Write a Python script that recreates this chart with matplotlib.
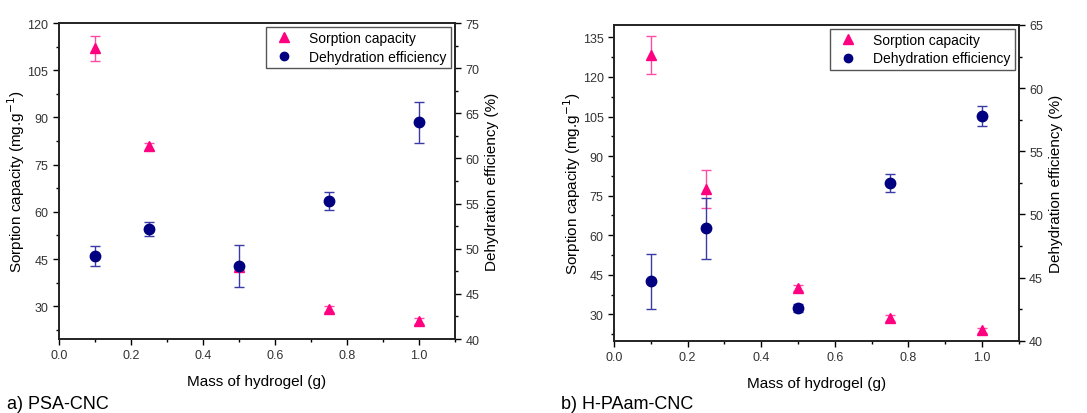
import matplotlib.pyplot as plt
from matplotlib.ticker import MultipleLocator
from matplotlib.lines import Line2D

plt.rcParams['font.family'] = ['Liberation Sans', 'DejaVu Sans']
plt.rcParams['font.size'] = 10

# Data
mass = [0.1, 0.25, 0.5, 0.75, 1.0]

# a) PSA-CNC
sorp_a = [112.0, 80.8, 42.4, 29.1, 25.4]
sorp_a_err = [4.0, 1.0, 1.0, 1.0, 1.0]
dehyd_a = [49.2, 52.2, 48.1, 55.25, 64.0]
dehyd_a_err = [1.1, 0.8, 2.3, 1.0, 2.3]

# b) H-PAam-CNC
sorp_b = [128.2, 77.6, 40.0, 28.6, 24.0]
sorp_b_err = [7.2, 7.3, 1.0, 1.0, 1.0]
dehyd_b = [44.7, 48.9, 42.6, 52.5, 57.8]
dehyd_b_err = [2.2, 2.4, 0.3, 0.7, 0.8]

pink = '#ff0080'
pink_err = '#ff4da6'
navy = '#000080'
navy_err = '#3b3ba8'

fig = plt.figure(figsize=(10.87, 4.14), dpi=100)

panels = [
    dict(rect=[0.054, 0.1787, 0.3646, 0.7633], sorp=sorp_a, serr=sorp_a_err,
         dehyd=dehyd_a, derr=dehyd_a_err, ylim=(19.6, 120), yticks=range(30, 121, 15),
         y2lim=(40, 75), y2step=5, label='a) PSA-CNC', lx=0.006),
    dict(rect=[0.5649, 0.1746, 0.3723, 0.7626], sorp=sorp_b, serr=sorp_b_err,
         dehyd=dehyd_b, derr=dehyd_b_err, ylim=(20, 139.7), yticks=range(30, 136, 15),
         y2lim=(40, 65), y2step=5, label='b) H-PAam-CNC', lx=0.516),
]

for p in panels:
    ax = fig.add_axes(p['rect'])
    ax2 = ax.twinx()

    ax.errorbar(mass, p['sorp'], yerr=p['serr'], fmt='^', color=pink, ms=7,
                ecolor=pink_err, elinewidth=1, capsize=3.5, capthick=1)
    ax2.errorbar(mass, p['dehyd'], yerr=p['derr'], fmt='o', color=navy, ms=7.5,
                 ecolor=navy_err, elinewidth=1, capsize=3.5, capthick=1)

    ax.set_xlim(0, 1.1)
    ax.set_ylim(*p['ylim'])
    ax.set_yticks(list(p['yticks']))
    ax.xaxis.set_major_locator(MultipleLocator(0.2))
    ax.xaxis.set_minor_locator(MultipleLocator(0.1))
    ax.yaxis.set_minor_locator(MultipleLocator(7.5))
    ax2.set_ylim(*p['y2lim'])
    ax2.yaxis.set_major_locator(MultipleLocator(p['y2step']))
    ax2.yaxis.set_minor_locator(MultipleLocator(p['y2step'] / 2))

    for a in (ax, ax2):
        a.tick_params(which='major', direction='out', length=4, width=1,
                      labelsize=9, labelcolor='#333333')
        a.tick_params(which='minor', direction='out', length=2.5, width=1)
        for s in a.spines.values():
            s.set_linewidth(1.2)
            s.set_color('#222222')
    ax.tick_params(axis='x', which='both', top=False)

    ax.set_xlabel('Mass of hydrogel (g)', fontsize=11, labelpad=9)
    ax.set_ylabel('Sorption capacity (mg.g$^{-1}$)', fontsize=11, labelpad=0)
    ax2.set_ylabel('Dehydration efficiency (%)', fontsize=11, labelpad=4)

    handles = [
        Line2D([], [], marker='^', ls='none', color=pink, ms=7),
        Line2D([], [], marker='o', ls='none', color=navy, ms=6),
    ]
    leg = ax2.legend(handles, ['Sorption capacity', 'Dehydration efficiency'],
                     loc='upper right', fontsize=10, fancybox=False,
                     borderaxespad=0.3, handletextpad=0.8, borderpad=0.3,
                     labelspacing=0.3, framealpha=1)
    leg.get_frame().set_edgecolor('#555555')
    leg.get_frame().set_linewidth(1)

    fig.text(p['lx'], 0.022, p['label'], fontsize=13, va='center', ha='left')

fig.savefig('out.png', dpi=100)
